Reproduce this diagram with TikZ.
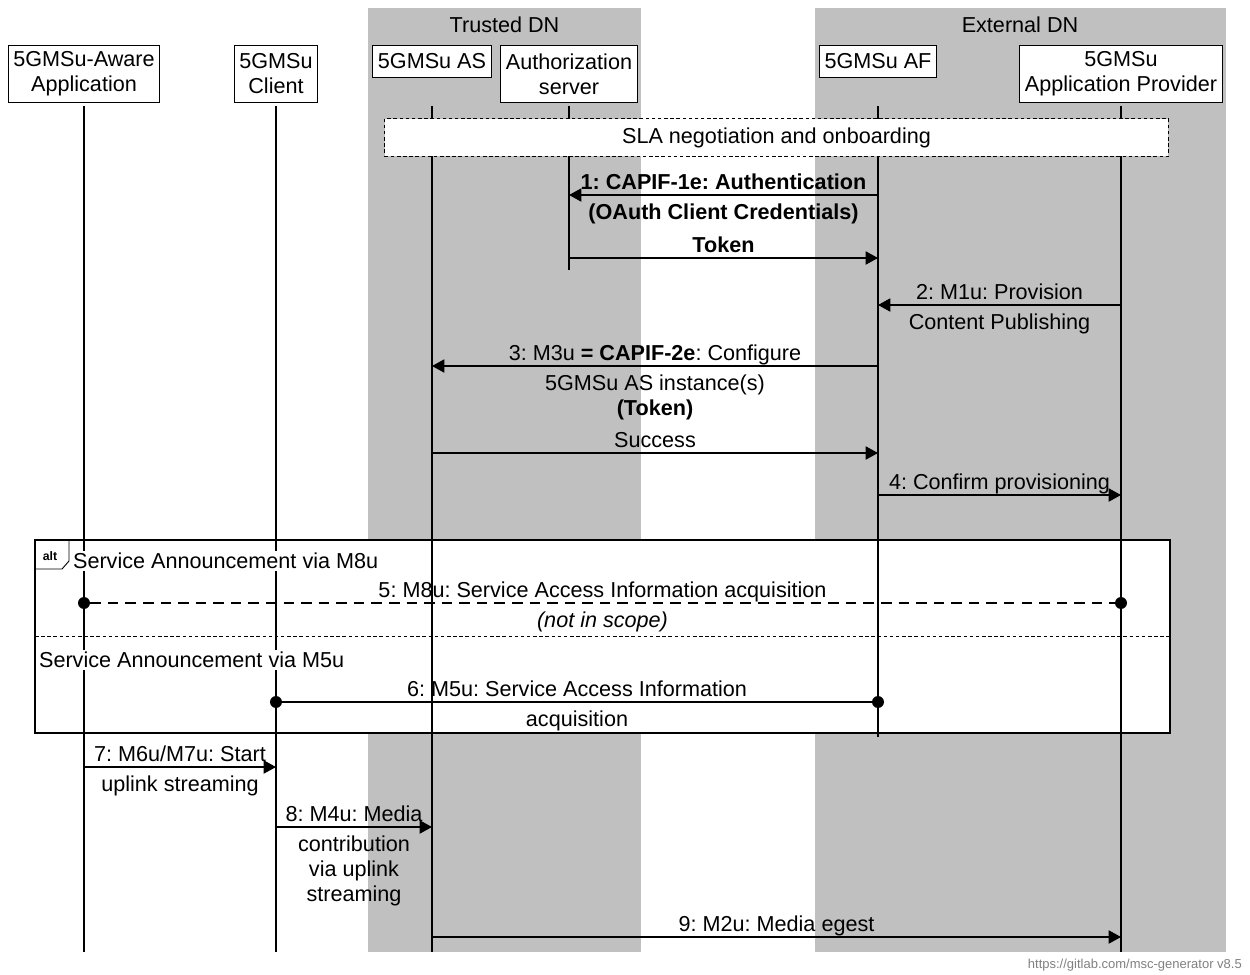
\documentclass[tikz,border=0pt]{standalone}
\usepackage{fontspec}
\setmainfont{Liberation Sans}
\usetikzlibrary{arrows.meta}
\definecolor{dnband}{RGB}{192,192,192}
\definecolor{footgray}{RGB}{128,128,128}
\frenchspacing

\begin{document}
\begin{tikzpicture}[x=0.02cm,y=-0.02cm,>={Triangle[length=7pt,width=7.5pt]},
  font=\fontsize{12.3}{14.2}\selectfont,
  entity/.style={draw,fill=white,line width=0.6pt,inner xsep=3pt,inner ysep=2pt,minimum height=18.1pt,anchor=north,align=center},
  entity2/.style={entity,minimum height=32.3pt},
  lifeline/.style={line width=0.6pt},
  msg/.style={->,line width=0.7pt},
  uplbl/.style={anchor=base,yshift=3.3pt,inner sep=0pt},
  downlbl/.style={anchor=north,yshift=-4.6pt,inner sep=0pt,align=center},
  dot/.style={circle,fill,inner sep=0pt,minimum size=6.8pt},
  seclbl/.style={anchor=west,fill=white,inner sep=1pt}]
\useasboundingbox (0,0) rectangle (1250,974);
% data network bands
\fill[dnband] (368,8) rectangle (641,952);
\fill[dnband] (815,8) rectangle (1226,952);
\node (trusted) at (504.5,25) {Trusted DN};
\node (external) at (1020,25) {External DN};
% entities
\node[entity2] (app) at (84,45) {5GMSu-Aware\\Application};
\node[entity2] (client) at (276,45) {5GMSu\\Client};
\node[entity] (as) at (432,45) {5GMSu AS};
\node[entity2] (auth) at (569,45) {Authorization\\server};
\node[entity] (af) at (878,45) {5GMSu AF};
\node[entity2] (prov) at (1121,45) {5GMSu\\Application Provider};
\coordinate (top) at (0,106);
\coordinate (bot) at (0,952);
\coordinate (authend) at (0,270);
\coordinate (afend) at (0,737);
% alt frame
\draw[fill=white,line width=0.6pt] (35,540) rectangle (1170,733);
% lifelines
\foreach \e in {app,client,as,prov}
  \draw[lifeline] (\e |- top) -- (\e |- bot);
\draw[lifeline] (auth |- top) -- (auth |- authend);
\draw[lifeline] (af |- top) -- (af |- afend);
\node[draw,fill=white,line width=0.6pt,dash pattern=on 2pt off 1.5pt,minimum width=446pt,minimum height=21.5pt] (sla) at (776.5,137.5) {SLA negotiation and onboarding};
% message rows
\coordinate (r1) at (0,195);
\coordinate (r1b) at (0,258);
\coordinate (r2) at (0,305);
\coordinate (r3) at (0,366);
\coordinate (r3b) at (0,453);
\coordinate (r4) at (0,495);
\coordinate (r5) at (0,603);
\coordinate (r6) at (0,702);
\coordinate (r7) at (0,767);
\coordinate (r8) at (0,827);
\coordinate (r9) at (0,937);
\draw[msg] (af |- r1) -- node[uplbl] {\textbf{1: CAPIF-1e: Authentication}} node[downlbl] {\textbf{(OAuth Client Credentials)}} (auth |- r1);
\draw[msg] (auth |- r1b) -- node[uplbl] {\textbf{Token}} (af |- r1b);
\draw[msg] (prov |- r2) -- node[uplbl] {2: M1u: Provision} node[downlbl] {Content Publishing} (af |- r2);
\draw[msg] (af |- r3) -- node[uplbl] {3: M3u \textbf{= CAPIF-2e}: Configure} node[downlbl] {5GMSu AS instance(s)\\\textbf{(Token)}} (as |- r3);
\draw[msg] (as |- r3b) -- node[uplbl] {Success} (af |- r3b);
\draw[msg] (af |- r4) -- node[uplbl] {4: Confirm provisioning} (prov |- r4);
% alt sections
\draw[line width=0.5pt] (35,569) -- (62,569) -- (69,561) -- (69,540);
\node[inner sep=0pt,font=\fontsize{7}{8}\selectfont\bfseries] (alttag) at (50,556) {alt};
\node[seclbl] (sec1) at (71,561) {Service Announcement via M8u};
\draw[line width=0.5pt,dash pattern=on 2pt off 1.5pt] (35,636) -- (1170,636);
\node[seclbl] (sec2) at (37,660) {Service Announcement via M5u};
\node[dot] (d5a) at (app |- r5) {};
\node[dot] (d5b) at (prov |- r5) {};
\draw[line width=0.7pt,dash pattern=on 6pt off 4pt] (d5a) -- node[uplbl] {5: M8u: Service Access Information acquisition} node[downlbl] {\textit{(not in scope)}} (d5b);
\node[dot] (d6a) at (client |- r6) {};
\node[dot] (d6b) at (af |- r6) {};
\draw[line width=0.7pt] (d6a) -- node[uplbl] {6: M5u: Service Access Information} node[downlbl] {acquisition} (d6b);
% uplink
\draw[msg] (app |- r7) -- node[uplbl] {7: M6u/M7u: Start} node[downlbl] {uplink streaming} (client |- r7);
\draw[msg] (client |- r8) -- node[uplbl] {8: M4u: Media} node[downlbl] {contribution\\via uplink\\streaming} (as |- r8);
\draw[msg] (as |- r9) -- node[uplbl] {9: M2u: Media egest} (prov |- r9);
\node[anchor=east,text=footgray,font=\fontsize{7.4}{8}\selectfont] (credit) at (1248,965) {https://gitlab.com/msc-generator v8.5};
\end{tikzpicture}
\end{document}
